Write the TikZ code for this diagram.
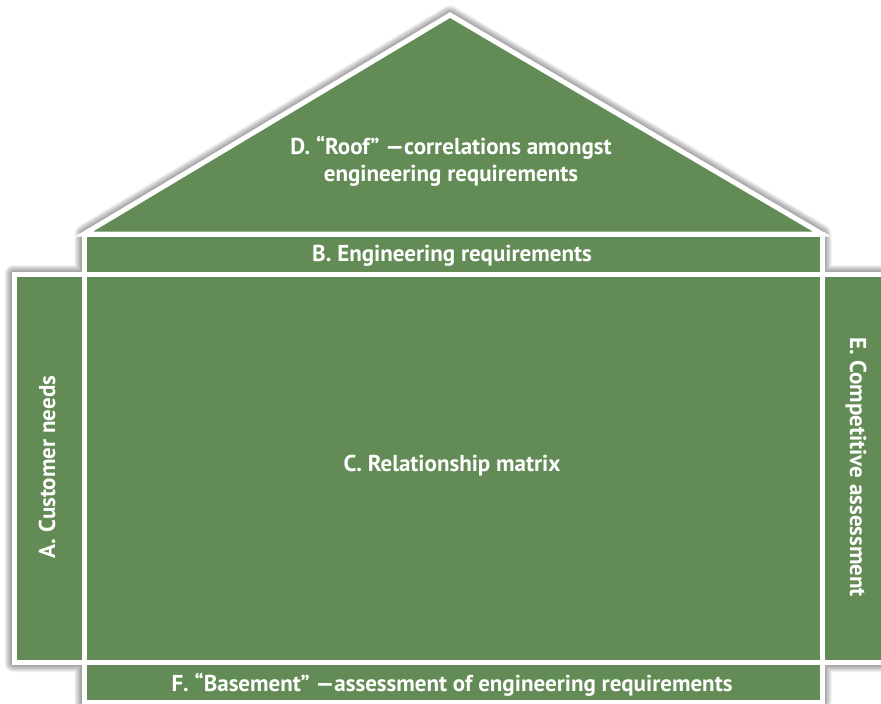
\documentclass[tikz,border=0pt]{standalone}
\usepackage{fontspec}
\setmainfont{PT Sans}
\definecolor{qfdgreen}{RGB}{99,139,85}
\begin{document}
\begin{tikzpicture}[x=1pt,y=-1pt,
    part/.style={fill=qfdgreen,draw=white,line width=5pt,line join=miter},
    lbl/.style={text=white,font=\fontsize{23}{27}\selectfont\bfseries,align=center}]
      \useasboundingbox (0,0) rectangle (881,704);
      \clip (0,0) rectangle (881,704);
      % soft glow round the house
      \foreach \w in {3,5,...,19}
        \draw[black,opacity=.06,line width=\w pt,line join=round]
          (14,274.5) -- (84,274.5) -- (84,234) -- (450,15) -- (822,234) -- (822,274.5)
          -- (890,274.5) -- (890,662.5) -- (822,662.5) -- (822,702) -- (84,702)
          -- (84,662.5) -- (14,662.5) -- cycle;
      \draw[part] (84,234) -- (450,15) -- (822,234) -- cycle;
      \draw[part] (84,234) rectangle (822,274.5);
      \draw[part] (14,274.5) rectangle (84,662.5);
      \draw[part] (84,274.5) rectangle (822,662.5);
      \draw[part] (822,274.5) rectangle (890,662.5);
      \draw[part] (84,662.5) rectangle (822,702);
      \node[lbl] (roof) at (451,161) {D. “Roof” —correlations amongst\\engineering requirements};
      \node[lbl] (engreq) at (452,256) {B. Engineering requirements};
      \node[lbl,rotate=90] (custneeds) at (47,467) {A. Customer needs};
      \node[lbl] (relmatrix) at (452,466) {C. Relationship matrix};
      \node[lbl,rotate=-90] (compass) at (856,467) {E. Competitive assessment};
      \node[lbl] (basement) at (452,685) {F. “Basement” —assessment of engineering requirements};
    \end{tikzpicture}
\end{document}
